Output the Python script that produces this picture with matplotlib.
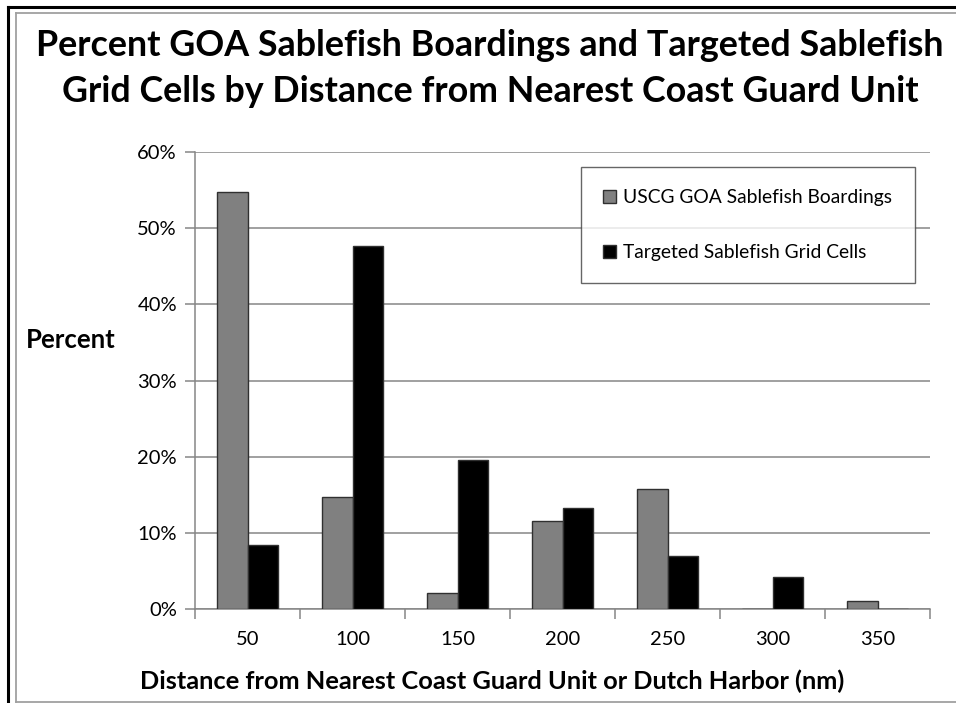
import matplotlib.pyplot as plt
from matplotlib.lines import Line2D
import numpy as np

# data
distances = ['50', '100', '150', '200', '250', '300', '350']
boardings = [54.8, 14.7, 2.1, 11.5, 15.8, 0.0, 1.0]
grid_cells = [8.4, 47.6, 19.6, 13.3, 7.0, 4.2, 0.0]
y_ticks = [0, 10, 20, 30, 40, 50, 60]

plt.rcParams['font.family'] = ['Lato', 'DejaVu Sans']

fig = plt.figure(figsize=(9.56, 7.03), dpi=100)
ax = fig.add_axes([195 / 956, 1 - 609 / 703, 735 / 956, 457 / 703])

x = np.arange(len(distances))
w = 0.29
ax.bar(x - w / 2, boardings, w, color='#808080', edgecolor='#303030', linewidth=1.0,
       label='USCG GOA Sablefish Boardings', zorder=3)
ax.bar(x + w / 2, grid_cells, w, color='#000000', edgecolor='#303030', linewidth=1.0,
       label='Targeted Sablefish Grid Cells', zorder=3)

ax.set_xlim(-0.5, len(distances) - 0.5)
ax.set_ylim(0, 60)
ax.set_yticks(y_ticks)
ax.set_yticklabels([f'{v}%' for v in y_ticks], fontsize=14.5)
ax.yaxis.grid(True, color='#868686', linewidth=1.1, zorder=0)

# category labels in the middle, tick marks between categories
ax.set_xticks(x)
ax.set_xticklabels(distances, fontsize=14.5)
ax.set_xticks(np.arange(-0.5, len(distances)), minor=True)
ax.tick_params(axis='x', which='major', length=0, pad=16)
ax.tick_params(axis='x', which='minor', length=7, color='#868686', width=1.1)
ax.tick_params(axis='y', length=7, color='#868686', width=1.1, pad=6)

for s in ['top', 'right']:
    ax.spines[s].set_visible(False)
for s in ['left', 'bottom']:
    ax.spines[s].set_color('#868686')
    ax.spines[s].set_linewidth(1.1)

# axis titles are centred on the whole chart area, not the plot area
fig.text(492 / 956, 1 - 681 / 703, 'Distance from Nearest Coast Guard Unit or Dutch Harbor (nm)',
         fontsize=18.3, fontweight='bold', ha='center', va='center')
fig.text(71 / 956, 1 - 340 / 703, 'Percent', fontsize=18.5, fontweight='bold',
         ha='center', va='center')

leg = ax.legend(loc='upper left', bbox_to_anchor=((581 - 195) / 735, 1 - 15 / 457),
                fontsize=13.9, frameon=True, fancybox=False, edgecolor='#404040',
                borderpad=1.15, labelspacing=1.95, handlelength=0.65, handleheight=0.65,
                handletextpad=0.4, borderaxespad=0)
leg.get_frame().set_linewidth(1.0)

fig.text(490 / 956, 1 - 45 / 703, 'Percent GOA Sablefish Boardings and Targeted Sablefish',
         fontsize=25.8, fontweight='bold', ha='center', va='center')
fig.text(490 / 956, 1 - 92 / 703, 'Grid Cells by Distance from Nearest Coast Guard Unit',
         fontsize=25.8, fontweight='bold', ha='center', va='center')

# outer frame lines (chart is cropped at right and bottom)
fig.add_artist(Line2D([8 / 956, 1], [1 - 7 / 703, 1 - 7 / 703], color='black', linewidth=2.2))
fig.add_artist(Line2D([8 / 956, 8 / 956], [0, 1 - 7 / 703], color='black', linewidth=2.2))
fig.add_artist(Line2D([16 / 956, 1], [1 - 13 / 703, 1 - 13 / 703], color='#a0a0a0', linewidth=1.3))
fig.add_artist(Line2D([16 / 956, 16 / 956], [1 / 703, 1 - 13 / 703], color='#a0a0a0', linewidth=1.3))
fig.add_artist(Line2D([16 / 956, 1], [1 / 703, 1 / 703], color='#a0a0a0', linewidth=1.3))

fig.savefig('out.png', dpi=100)
